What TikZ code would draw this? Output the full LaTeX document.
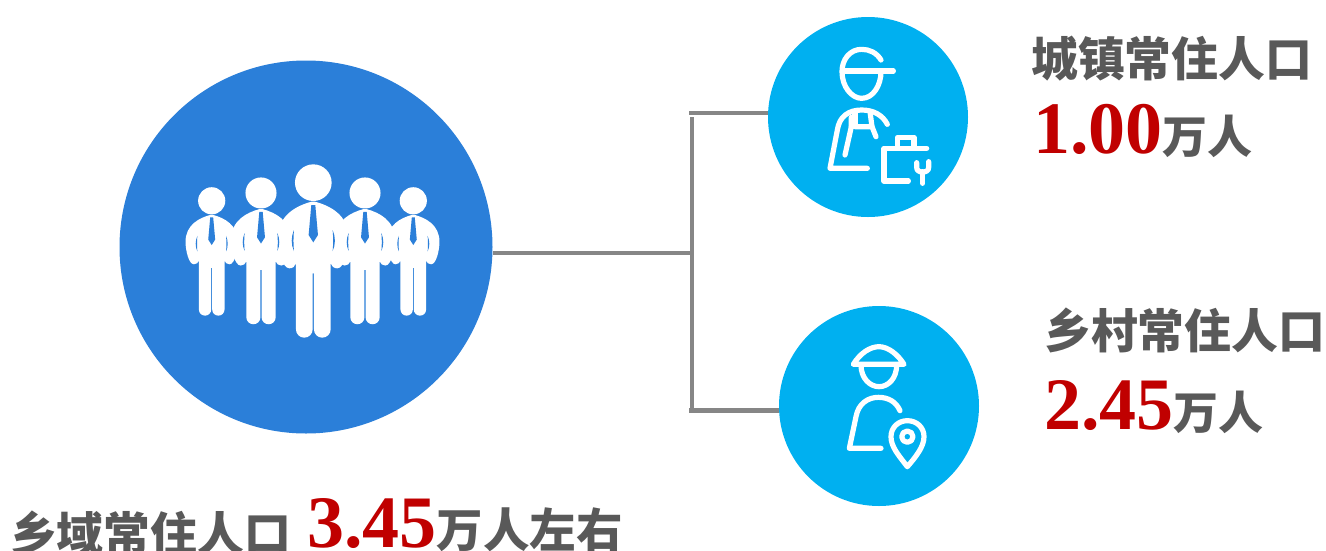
\documentclass[tikz,border=0pt]{standalone}
\usepackage{fontspec}
\setmainfont{Liberation Serif}
\newfontfamily\cjkf{Noto Sans CJK SC}
\newfontfamily\numf{Liberation Serif}
\definecolor{bigblue}{HTML}{2B7FD9}
\definecolor{skyblue}{HTML}{00B0F0}
\definecolor{linegrey}{HTML}{868686}
\definecolor{txtgrey}{HTML}{595959}
\definecolor{numred}{HTML}{C00000}
\newcommand{\lbl}[1]{{\cjkf\bfseries\fontsize{46.8}{50}\selectfont\textcolor{txtgrey}{#1}}}
\newcommand{\num}[1]{{\numf\bfseries\fontsize{74}{78}\selectfont\textcolor{numred}{#1}}}
\newcommand{\unitl}[1]{{\cjkf\bfseries\fontsize{45}{50}\selectfont\textcolor{txtgrey}{#1}}}
\newcommand{\unitb}[1]{{\cjkf\bfseries\fontsize{46.5}{50}\selectfont\textcolor{txtgrey}{#1}}}
\tikzset{
  x=1pt,y=-1pt,
  bigdisc/.style={circle,fill=bigblue,minimum size=373pt,inner sep=0pt},
  smalldisc/.style={circle,fill=skyblue,minimum size=200pt,inner sep=0pt},
  conn/.style={draw=linegrey,line width=4.4pt},
  connthin/.style={draw=linegrey,line width=3.4pt},
  icon/.style={draw=white,line width=5.2pt,line cap=round,line join=round},
  txt/.style={inner sep=0pt,anchor=base west},
  personwhite/.pic={
    \fill[white] (0,53) circle[radius=55];
    \fill[white] (-5,110) .. controls (-50,122) and (-106,150) .. (-106,219)
      .. controls (-106,250) and (-94,310) .. (-72,310)
      .. controls (-62,310) and (-54,304) .. (-52,295) -- (-52,493)
      .. controls (-52,507) and (-41,518) .. (-27,518)
      .. controls (-13,518) and (-2,507) .. (-2,493) -- (-2,325) -- (2,325) -- (2,493)
      .. controls (2,507) and (13,518) .. (27,518)
      .. controls (41,518) and (52,507) .. (52,493) -- (52,295)
      .. controls (54,304) and (62,310) .. (72,310)
      .. controls (94,310) and (106,250) .. (106,219)
      .. controls (106,150) and (50,122) .. (5,110) -- cycle;
  },
  personblue/.pic={
    \fill[bigblue] (-6,120) -- (6,120) -- (14,210) -- (0,232) -- (-14,210) -- cycle;
    \fill[bigblue] (-58,195) .. controls (-67,215) and (-67,240) .. (-58,258)
      .. controls (-60,240) and (-60,215) .. (-58,195) -- cycle;
    \fill[bigblue] (58,195) .. controls (67,215) and (67,240) .. (58,258)
      .. controls (60,240) and (60,215) .. (58,195) -- cycle;
  }
}
\begin{document}
\begin{tikzpicture}
\useasboundingbox (0,0) rectangle (1326,550);
\clip (0,0) rectangle (1326,550);
% nodes
\node[bigdisc] (big) at (306,247) {};
\node[smalldisc] (town) at (868,117) {};
\node[smalldisc] (rural) at (879,406) {};
\coordinate (jmid) at (692,253);
\coordinate (jtop) at (689,113);
\coordinate (jbot) at (689,410.5);
\coordinate (vtop) at (692,117);
\coordinate (vbot) at (692,410.5);
% connectors
\draw[connthin] (jmid) -- (jmid -| big.east);
\draw[conn] (vtop) -- (vbot);
\draw[conn] (jtop) -- (jtop -| town.west);
\draw[conn] (jbot) -- (jbot -| rural.west);
% people icon
\foreach \px/\py/\ps in {211.7/187.7/.741, 413.3/187.7/.741, 261/178/.847, 365/178/.847, 313.3/165/1}
  \pic[shift={(\px,\py)},scale=\ps/3] {personwhite};
\foreach \px/\py/\ps in {211.7/187.7/.741, 413.3/187.7/.741, 261/178/.847, 365/178/.847, 313.3/165/1}
  \pic[shift={(\px,\py)},scale=\ps/3] {personblue};
% worker icon
\begin{scope}[shift={(810,30)},scale=1/3]
\draw[icon] (213,90) .. controls (200,68) and (178,58) .. (155,58) .. controls (120,58) and (96,88) .. (96,125) .. controls (96,170) and (125,205) .. (155,205) .. controls (190,205) and (213,165) .. (213,125);
\draw[icon] (97,123) -- (250,123);
\draw[icon] (172,415) -- (60,415) -- (82,300) .. controls (88,260) and (115,240) .. (155,240) .. controls (190,240) and (218,255) .. (232,283);
\draw[icon] (105,375) -- (124,290) -- (124,262);
\draw[icon] (135,245) -- (135,290) -- (124,290);
\draw[icon] (135,290) -- (186,290) -- (198,320);
\draw[icon] (180,245) -- (186,290);
\draw[icon] (295,453) -- (222,453) -- (222,355) -- (350,355);
\draw[icon] (262,355) -- (262,322) -- (312,322) -- (312,355);
\draw[icon] (338,425) -- (338,460);
\draw[icon] (320,398) -- (320,412) .. controls (320,422) and (328,426) .. (338,426) .. controls (348,426) and (356,422) .. (356,412) -- (356,395);
\end{scope}
% rural worker icon
\begin{scope}[shift={(830,330)},scale=1/3]
\draw[icon] (70,103) -- (222,103) .. controls (205,75) and (175,50) .. (147,50) .. controls (120,50) and (90,70) .. (70,103) -- cycle;
\draw[icon] (93,105) .. controls (93,145) and (120,170) .. (147,170) .. controls (175,170) and (200,145) .. (200,105);
\draw[icon] (153,355) -- (58,355) -- (78,260) .. controls (85,220) and (115,202) .. (145,202) .. controls (175,202) and (198,215) .. (210,242);
\draw[icon] (232,410) .. controls (205,375) and (183,350) .. (183,320) .. controls (183,292) and (205,272) .. (232,272) .. controls (260,272) and (282,292) .. (282,320) .. controls (282,350) and (258,380) .. (232,410) -- cycle;
\draw[icon] (232,320) circle[radius=17];
\end{scope}
% texts
\node[txt] (t1) at (1031,76) {\lbl{城镇常住人口}};
\node[txt] (n1) at (1033,153) {\num{1.00}\unitl{万人}};
\node[txt] (t2) at (1044,348) {\lbl{乡村常住人口}};
\node[txt] (n2) at (1044,429) {\num{2.45}\unitl{万人}};
\node[txt] (t3) at (10,551) {\lbl{乡域常住人口}};
\node[txt] (n3) at (307,547.5) {\num{3.45}\unitb{万人左右}};
\end{tikzpicture}
\end{document}
